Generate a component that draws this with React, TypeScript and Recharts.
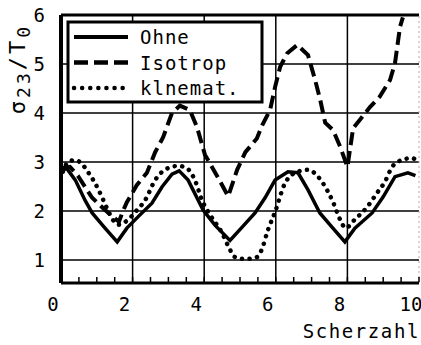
import { LineChart, Line, XAxis, YAxis, ReferenceLine } from "recharts";

const FONT = "'DejaVu Sans Mono', monospace";

// Scherzahl vs. sigma23/T0
const ohneX = [0.05, 0.15, 0.4, 0.67, 0.87, 1.23, 1.57, 1.84, 2.15, 2.54, 2.82, 3.1, 3.3, 3.55, 3.97, 4.3, 4.72, 5.06, 5.42, 5.7, 5.98, 6.34, 6.62, 6.9, 7.23, 7.57, 7.93, 8.21, 8.69, 9.0, 9.33, 9.69, 9.9];
const ohneY = [2.82, 2.88, 2.63, 2.22, 1.96, 1.65, 1.37, 1.65, 1.88, 2.16, 2.49, 2.75, 2.82, 2.63, 2.02, 1.71, 1.4, 1.67, 1.96, 2.27, 2.63, 2.8, 2.78, 2.43, 1.96, 1.67, 1.37, 1.65, 1.96, 2.29, 2.7, 2.78, 2.72];

const isoX = [0.05, 0.25, 0.47, 0.87, 1.17, 1.42, 1.62, 1.72, 1.84, 2.12, 2.4, 2.63, 2.85, 3.1, 3.32, 3.6, 3.8, 4.02, 4.2, 4.38, 4.67, 4.92, 5.15, 5.47, 5.62, 5.84, 5.98, 6.12, 6.32, 6.6, 6.9, 7.1, 7.24, 7.38, 7.6, 7.8, 8.0, 8.07, 8.16, 8.35, 8.63, 8.9, 9.19, 9.33, 9.47, 9.55];
const isoY = [2.88, 2.9, 2.72, 2.27, 2.06, 1.9, 1.78, 1.98, 2.18, 2.53, 2.78, 3.2, 3.5, 4.0, 4.15, 4.06, 3.71, 3.15, 2.92, 2.69, 2.3, 2.84, 3.2, 3.48, 3.75, 4.06, 4.53, 4.94, 5.22, 5.39, 5.18, 4.67, 4.27, 3.8, 3.65, 3.31, 2.9, 3.24, 3.69, 3.86, 4.12, 4.33, 4.67, 5.02, 5.76, 5.95];

const kinX = [0.05, 0.2, 0.39, 0.6, 0.75, 0.95, 1.14, 1.28, 1.45, 1.6, 1.84, 2.1, 2.35, 2.63, 2.9, 3.27, 3.5, 3.74, 3.94, 4.2, 4.5, 4.68, 4.86, 5.15, 5.45, 5.6, 5.78, 5.98, 6.26, 6.6, 6.9, 7.18, 7.43, 7.6, 7.8, 7.95, 8.2, 8.55, 8.83, 9.05, 9.25, 9.52, 9.8, 10];
const kinY = [2.8, 3.0, 3.04, 2.95, 2.8, 2.57, 2.29, 2.06, 1.82, 1.72, 1.8, 2.0, 2.22, 2.63, 2.84, 2.92, 2.88, 2.63, 2.22, 1.88, 1.55, 1.27, 1.06, 1.02, 1.05, 1.2, 1.61, 1.98, 2.57, 2.8, 2.84, 2.7, 2.43, 2.18, 1.82, 1.65, 1.82, 2.08, 2.37, 2.6, 2.9, 3.04, 3.08, 2.98];

const xTicks = [0, 0.5, 1, 1.5, 2, 2.5, 3, 3.5, 4, 4.5, 5, 5.5, 6, 6.5, 7, 7.5, 8, 8.5, 9, 9.5, 10];
const xLabels = [0, 2, 4, 6, 8, 10];
const yTicks = [1, 2, 3, 4, 5, 6];
const gridX = [2, 4, 6, 8];
const gridY = [1, 2, 3, 4, 5];

const zip = (xs: number[], ys: number[]) => xs.map((x, i) => ({ x, y: ys[i] }));
const ohne = zip(ohneX, ohneY);
const iso = zip(isoX, isoY);
const kin = zip(kinX, kinY);

function XTick({ x, y, payload }: any) {
  const v = payload.value;
  return (
    <g>
      <line x1={x} x2={x} y1={y - 1} y2={y - 6} stroke="#000" strokeWidth={1.5} />
      {xLabels.includes(v) && (
        <text x={x - 8} y={y + 28} textAnchor="middle" fontSize={19} fontFamily={FONT} fill="#000">
          {v}
        </text>
      )}
    </g>
  );
}

function YTick({ x, y, payload }: any) {
  return (
    <text x={x} y={y} dy={7} textAnchor="end" fontSize={19} fontFamily={FONT} fill="#000">
      {payload.value}
    </text>
  );
}

function YTitle({ viewBox }: any) {
  const cx = viewBox.x + 18;
  const cy = viewBox.y + 54;
  return (
    <text
      x={cx}
      y={cy}
      dy={7}
      transform={`rotate(-90 ${cx} ${cy})`}
      textAnchor="middle"
      fontSize={22}
      fontFamily={FONT}
      letterSpacing={3}
      fill="#000"
    >
      σ<tspan dy={5} fontSize={18}>23</tspan>
      <tspan dy={-5}>/T</tspan>
      <tspan dy={5} fontSize={18}>0</tspan>
    </text>
  );
}

function XTitle({ viewBox }: any) {
  return (
    <text
      x={viewBox.x + viewBox.width + 1}
      y={viewBox.y + viewBox.height - 7}
      textAnchor="end"
      fontSize={19}
      fontFamily={FONT}
      letterSpacing={1.6}
      fill="#000"
    >
      Scherzahl
    </text>
  );
}

const legendRows = [
  { name: "Ohne", dash: undefined, width: 4, cap: "butt" },
  { name: "Isotrop", dash: "14 6", width: 4.5, cap: "butt" },
  { name: "klnemat.", dash: "0.1 8", width: 4.5, cap: "round" },
];

export default function App() {
  return (
    <div style={{ position: "absolute", left: 0, top: 0, width: 421, height: 345, background: "#fff", fontFamily: FONT }}>
      <LineChart width={421} height={345} margin={{ top: 15, right: 2, bottom: 0, left: 0 }}>
        <XAxis
          type="number"
          dataKey="x"
          domain={[0, 10]}
          allowDataOverflow
          ticks={xTicks}
          interval={0}
          height={62}
          tickSize={0}
          tickMargin={0}
          tickLine={false}
          tick={<XTick />}
          axisLine={{ stroke: "#000", strokeWidth: 3 }}
          label={{ content: <XTitle /> }}
        />
        <YAxis
          type="number"
          domain={[0.53, 6]}
          allowDataOverflow
          ticks={yTicks}
          interval={0}
          width={61}
          tickSize={0}
          tickMargin={16}
          tickLine={false}
          tick={<YTick />}
          axisLine={{ stroke: "#000", strokeWidth: 4 }}
          label={{ content: <YTitle /> }}
        />
        {gridX.map((g) => (
          <ReferenceLine key={"gx" + g} x={g} stroke="#000" strokeWidth={1.5} />
        ))}
        {gridY.map((g) => (
          <ReferenceLine key={"gy" + g} y={g} stroke="#000" strokeWidth={1.5} />
        ))}
        <ReferenceLine y={6} stroke="#000" strokeWidth={3} />
        <ReferenceLine x={10} stroke="#aaa" strokeWidth={1} strokeDasharray="2 3" />
        <Line
          data={ohne}
          dataKey="y"
          name="Ohne"
          type="linear"
          stroke="#000"
          strokeWidth={3.5}
          dot={false}
          isAnimationActive={false}
        />
        <Line
          data={iso}
          dataKey="y"
          name="Isotrop"
          type="linear"
          stroke="#000"
          strokeWidth={4}
          strokeDasharray="13 6"
          dot={false}
          isAnimationActive={false}
        />
        <Line
          data={kin}
          dataKey="y"
          name="klnemat."
          type="monotone"
          stroke="#000"
          strokeWidth={4.5}
          strokeDasharray="0.1 7.5"
          strokeLinecap="round"
          dot={false}
          isAnimationActive={false}
        />
      </LineChart>
      <svg width={421} height={345} style={{ position: "absolute", left: 0, top: 0, pointerEvents: "none" }}>
        <rect x={68} y={22} width={194} height={80} fill="#fff" stroke="#000" strokeWidth={3} />
        {legendRows.map((r, i) => {
          const cy = 37 + i * 25.5;
          return (
            <g key={r.name}>
              <line
                x1={74}
                x2={128}
                y1={cy}
                y2={cy}
                stroke="#000"
                strokeWidth={r.width}
                strokeDasharray={r.dash}
                strokeLinecap={r.cap as any}
              />
              <text x={140} y={cy + 7} fontSize={19} fontFamily={FONT} letterSpacing={1} fill="#000">
                {r.name}
              </text>
            </g>
          );
        })}
      </svg>
    </div>
  );
}
